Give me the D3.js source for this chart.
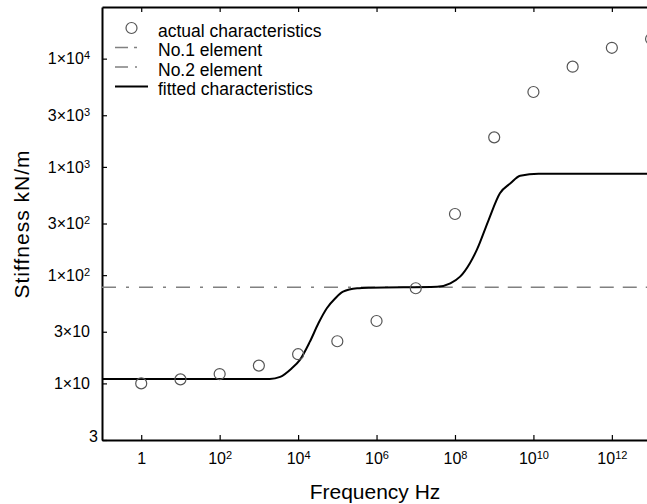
<!DOCTYPE html>
<html>
<head>
<meta charset="utf-8">
<title>Stiffness vs frequency</title>
<script src="https://cdn.jsdelivr.net/npm/d3@7"></script>
<style>
  body { margin: 0; background: #fff; }
  svg text { font-family: "Liberation Sans", Arial, sans-serif; fill: #000; }
</style>
</head>
<body>
<div class="d3-viz"></div>
<script>

 // measured points (Hz, kN/m)
 var actualFreq = [1, 1e1, 1e2, 1e3, 1e4, 1e5, 1e6, 1e7, 1e8, 1e9, 1e10, 1e11, 1e12, 1e13];
 var actualStiff = [10.0, 10.9, 12.2, 14.6, 18.6, 24.5, 37.7, 75.7, 367, 1875, 4920, 8430, 12600, 15200];

 // fitted curve
 var fitFreq = [0.1, 1.9e3, 3.5e3, 6.9e3, 1.1e4, 2.0e4, 3.3e4, 5.4e4, 8.9e4, 1.4e5, 3.2e5, 6.9e5,
                3.5e7, 7.6e7, 1.35e8, 2.4e8, 3.6e8, 7.2e8, 1.4e9, 2.6e9, 4.6e9, 1.35e10, 1e14];
 var fitStiff = [11.0, 11.0, 11.5, 13.8, 16.4, 24.3, 35.9, 49.4, 61.1, 70.3, 75.6, 76.6,
                 78.2, 84.1, 96.8, 129, 171, 323, 570, 705, 829, 865, 865];

 // element lines
 var elem1Freq = [0.1, 1e7];
 var elem1Stiff = [77.3, 77.3];
 var elem2Freq = [1e7, 1e14];
 var elem2Stiff = [77.3, 77.3];

 var xTicks = [1, 1e2, 1e4, 1e6, 1e8, 1e10, 1e12];
 var xTickLabels = ["1", "10^2", "10^4", "10^6", "10^8", "10^10", "10^12"];
 var yTicks = [3, 10, 30, 100, 300, 1000, 3000, 10000];
 var yTickLabels = ["3", "1×10", "3×10", "1×10^2", "3×10^2", "1×10^3", "3×10^3", "1×10^4"];

 var legendNames = ["actual characteristics", "No.1 element", "No.2 element", "fitted characteristics"];

 var width = 647;
 var height = 504;
 var plotLeft = 102, plotTop = 7, plotBottom = 440;

 var svg = d3.select(".d3-viz")
     .append("svg")
     .attr("width", width)
     .attr("height", height);

 var x = d3.scaleLog().domain([0.1, 1e14]).range([plotLeft, plotLeft + 15 * 39.22]);
 var y = d3.scaleLog().domain([3, 3e4]).range([plotBottom, plotTop]);

 // write "a^b" as text with a raised exponent
 var writeLabel = function(sel, str){
     sel.text(null);
     var parts = str.split("^");
     sel.append("tspan").text(parts[0]);
     if (parts.length > 1) {
         sel.append("tspan")
            .attr("dy", "-0.45em")
            .style("font-size", "11px")
            .text(parts[1]);
     }
 };

 // axes, ticks pointing inward
 var gx = svg.append("g")
     .attr("transform", "translate(0," + plotBottom + ")")
     .call(d3.axisBottom(x).tickValues(xTicks).tickSizeInner(-5).tickSizeOuter(0).tickPadding(13)
           .tickFormat(function(d, i){ return xTickLabels[i]; }));
 gx.selectAll("text").each(function(d, i){ writeLabel(d3.select(this), xTickLabels[i]); })
   .style("font-size", "16px");

 var gt = svg.append("g")
     .attr("transform", "translate(0," + plotTop + ")")
     .call(d3.axisTop(x).tickValues(xTicks).tickSizeInner(-5).tickSizeOuter(0).tickFormat(""));

 var gy = svg.append("g")
     .attr("transform", "translate(" + plotLeft + ",0)")
     .call(d3.axisLeft(y).tickValues(yTicks).tickSizeInner(-5).tickSizeOuter(0).tickPadding(12)
           .tickFormat(function(d, i){ return yTickLabels[i]; }));
 gy.selectAll("text").each(function(d, i){ writeLabel(d3.select(this), yTickLabels[i]); })
   .style("font-size", "16px");
 // the bottom "3" sits by the axis corner
 gy.selectAll("text").filter(function(d){ return d === 3; })
   .attr("x", -4).attr("dy", "0.1em");

 svg.selectAll(".domain").attr("stroke-width", 2);
 svg.selectAll(".tick line").attr("stroke-width", 1.2);

 // element lines
 var line = d3.line()
     .x(function(d){ return x(d[0]); })
     .y(function(d){ return y(d[1]); });

 svg.append("path")
    .attr("d", line(d3.zip(elem1Freq, elem1Stiff)))
    .attr("fill", "none")
    .attr("stroke", "#808080")
    .attr("stroke-width", 1.5)
    .attr("stroke-dasharray", "14,10,3,10");

 svg.append("path")
    .attr("d", line(d3.zip(elem2Freq, elem2Stiff)))
    .attr("fill", "none")
    .attr("stroke", "#808080")
    .attr("stroke-width", 1.5)
    .attr("stroke-dasharray", "14,9");

 // fitted curve
 var fitLine = d3.line()
     .x(function(d){ return x(d[0]); })
     .y(function(d){ return y(d[1]); })
     .curve(d3.curveMonotoneX);

 svg.append("path")
    .attr("d", fitLine(d3.zip(fitFreq, fitStiff)))
    .attr("fill", "none")
    .attr("stroke", "#000")
    .attr("stroke-width", 2);

 // measured circles
 svg.selectAll(".pt")
    .data(d3.zip(actualFreq, actualStiff))
    .enter()
    .append("circle")
    .attr("class", "pt")
    .attr("cx", function(d){ return x(d[0]); })
    .attr("cy", function(d){ return y(d[1]); })
    .attr("r", 5.5)
    .attr("fill", "none")
    .attr("stroke", "#555")
    .attr("stroke-width", 1.2);

 // legend
 var lg = svg.append("g").attr("transform", "translate(115,28)");
 var rowH = 19.5;
 lg.append("circle").attr("cx", 16.5).attr("cy", 0).attr("r", 5.5)
   .attr("fill", "none").attr("stroke", "#555").attr("stroke-width", 1.2);
 lg.append("line").attr("x1", 0).attr("x2", 22).attr("y1", rowH).attr("y2", rowH)
   .attr("stroke", "#808080").attr("stroke-width", 1.5).attr("stroke-dasharray", "13,6,3,10");
 lg.append("line").attr("x1", 0).attr("x2", 22).attr("y1", 2 * rowH).attr("y2", 2 * rowH)
   .attr("stroke", "#808080").attr("stroke-width", 1.5).attr("stroke-dasharray", "13,7,2,10");
 lg.append("line").attr("x1", 0).attr("x2", 33).attr("y1", 3 * rowH).attr("y2", 3 * rowH)
   .attr("stroke", "#000").attr("stroke-width", 2);
 lg.selectAll(".lt")
   .data(legendNames)
   .enter()
   .append("text")
   .attr("class", "lt")
   .attr("x", 43)
   .attr("y", function(d, i){ return i * rowH + 3; })
   .attr("dy", "0.32em")
   .style("font-size", "17.5px")
   .text(function(d){ return d; });

 // axis titles
 svg.append("text")
    .attr("x", 375)
    .attr("y", 499)
    .attr("text-anchor", "middle")
    .style("font-size", "21px")
    .text("Frequency Hz");

 svg.append("text")
    .attr("transform", "translate(29,224) rotate(-90)")
    .attr("text-anchor", "middle")
    .style("font-size", "21px")
    .style("letter-spacing", "1px")
    .text("Stiffness kN/m");

</script>
</body>
</html>
